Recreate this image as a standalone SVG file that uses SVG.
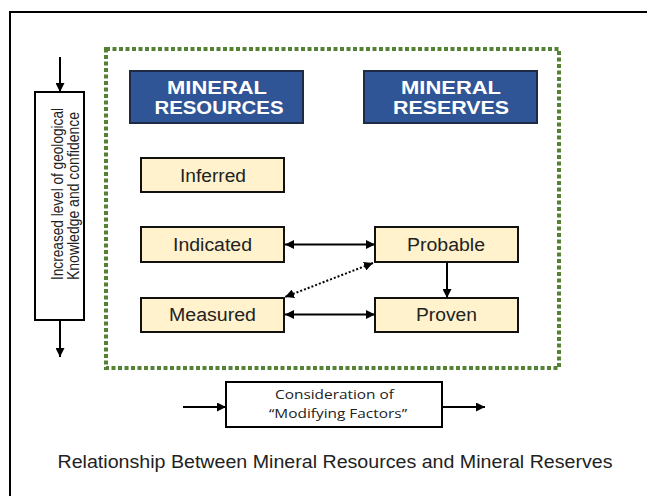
<svg xmlns="http://www.w3.org/2000/svg" width="647" height="496" viewBox="0 0 647 496">
  <defs>
    <marker id="arrow" viewBox="0 0 10 10" refX="10" refY="5" markerWidth="4.5" markerHeight="4.5" orient="auto-start-reverse" markerUnits="strokeWidth">
      <path d="M0,0 L10,5 L0,10 z" fill="#000"/>
    </marker>
    <style>
      .frame { fill: none; stroke: #000; stroke-width: 2; }
      .zone { fill: none; stroke: #548235; stroke-width: 4; stroke-dasharray: 4 2.5; }
      .head { fill: #2F5597; stroke: #1F2A44; stroke-width: 2; }
      .head-text { font-family: "Liberation Sans", Arial, sans-serif; font-weight: bold; font-size: 18px; fill: #fff; text-anchor: middle; }
      .cat { fill: #FFF2CC; stroke: #111; stroke-width: 2; }
      .cat-text { font-family: "Liberation Sans", Arial, sans-serif; font-size: 18px; fill: #222; text-anchor: middle; }
      .plain { fill: #fff; stroke: #000; stroke-width: 2; }
      .side-text { font-family: "Liberation Sans", Arial, sans-serif; font-size: 16px; fill: #222; text-anchor: middle; }
      .mod-text { font-family: "Open Sans", "Noto Sans", sans-serif; font-size: 12.5px; fill: #222; text-anchor: middle; }
      .caption { font-family: "Liberation Sans", Arial, sans-serif; font-size: 17.5px; fill: #222; text-anchor: middle; }
      .link { fill: none; stroke: #000; stroke-width: 2; }
      .link-dotted { fill: none; stroke: #000; stroke-width: 2; stroke-dasharray: 2 2; }
    </style>
  </defs>

  <!-- outer frame (top and left edges) -->
  <path class="frame" d="M10,496 V12 H647"/>

  <!-- dotted boundary around the classification -->
  <rect class="zone" x="106" y="49" width="453" height="319"/>

  <g id="mineral-resources">
    <rect class="head" x="130" y="71" width="173" height="52"/>
    <text class="head-text" x="217" y="93.5" textLength="100" lengthAdjust="spacingAndGlyphs">MINERAL</text>
    <text class="head-text" x="219" y="113.5" textLength="129" lengthAdjust="spacingAndGlyphs">RESOURCES</text>
  </g>

  <g id="mineral-reserves">
    <rect class="head" x="364" y="71" width="173" height="52"/>
    <text class="head-text" x="451" y="93.5" textLength="100" lengthAdjust="spacingAndGlyphs">MINERAL</text>
    <text class="head-text" x="451" y="113.5" textLength="116" lengthAdjust="spacingAndGlyphs">RESERVES</text>
  </g>

  <g id="inferred">
    <rect class="cat" x="141" y="158" width="143" height="34"/>
    <text class="cat-text" x="213" y="181.5" textLength="66" lengthAdjust="spacingAndGlyphs">Inferred</text>
  </g>

  <g id="indicated">
    <rect class="cat" x="141" y="227" width="143" height="35"/>
    <text class="cat-text" x="212.5" y="251" textLength="79" lengthAdjust="spacingAndGlyphs">Indicated</text>
  </g>

  <g id="measured">
    <rect class="cat" x="141" y="298" width="143" height="34"/>
    <text class="cat-text" x="212.5" y="321" textLength="87" lengthAdjust="spacingAndGlyphs">Measured</text>
  </g>

  <g id="probable">
    <rect class="cat" x="375" y="227" width="143" height="35"/>
    <text class="cat-text" x="446" y="251" textLength="78" lengthAdjust="spacingAndGlyphs">Probable</text>
  </g>

  <g id="proven">
    <rect class="cat" x="375" y="298" width="143" height="34"/>
    <text class="cat-text" x="446.5" y="321" textLength="61" lengthAdjust="spacingAndGlyphs">Proven</text>
  </g>

  <g id="confidence">
    <rect class="plain" x="35" y="92" width="49" height="228"/>
    <text class="side-text" transform="translate(62.5,194) rotate(-90)" textLength="172" lengthAdjust="spacingAndGlyphs">Increased level of geological</text>
    <text class="side-text" transform="translate(78.5,196) rotate(-90)" textLength="168" lengthAdjust="spacingAndGlyphs">Knowledge and confidence</text>
  </g>

  <g id="modifying-factors">
    <rect class="plain" x="226" y="382" width="216" height="45"/>
    <text class="mod-text" x="334.5" y="399" textLength="119" lengthAdjust="spacingAndGlyphs">Consideration of</text>
    <text class="mod-text" x="338" y="418" textLength="138" lengthAdjust="spacingAndGlyphs">“Modifying Factors”</text>
  </g>

  <g id="connectors">
    <line class="link" x1="60" y1="57" x2="60" y2="92" marker-end="url(#arrow)"/>
    <line class="link" x1="60" y1="320" x2="60" y2="357" marker-end="url(#arrow)"/>
    <line class="link" x1="285" y1="244.5" x2="375" y2="244.5" marker-start="url(#arrow)" marker-end="url(#arrow)"/>
    <line class="link" x1="285" y1="314.5" x2="375" y2="314.5" marker-start="url(#arrow)" marker-end="url(#arrow)"/>
    <line class="link" x1="447" y1="262" x2="447" y2="298" marker-end="url(#arrow)"/>
    <line class="link-dotted" x1="373" y1="263" x2="285" y2="297" marker-start="url(#arrow)" marker-end="url(#arrow)"/>
    <line class="link" x1="183" y1="407" x2="226" y2="407" marker-end="url(#arrow)"/>
    <line class="link" x1="442" y1="407" x2="485" y2="407" marker-end="url(#arrow)"/>
  </g>

  <text class="caption" x="335" y="468" textLength="555" lengthAdjust="spacingAndGlyphs">Relationship Between Mineral Resources and Mineral Reserves</text>
</svg>
